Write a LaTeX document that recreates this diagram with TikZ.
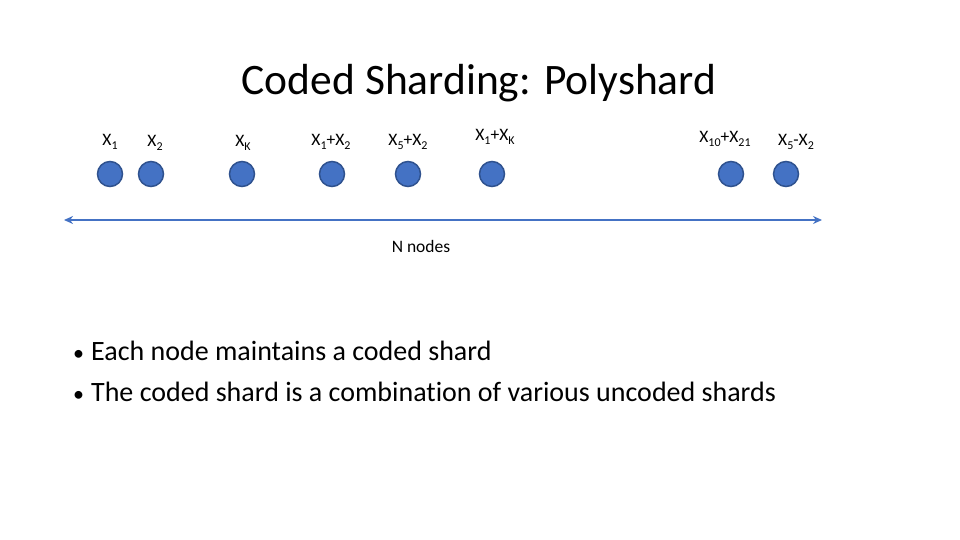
\documentclass[tikz,border=0pt]{standalone}
\usepackage{fontspec}
\setmainfont[RawFeature=-liga]{Carlito}
\usetikzlibrary{arrows.meta}
\definecolor{nodefill}{HTML}{4472C4}
\definecolor{nodeedge}{HTML}{2F528F}
\newcommand{\sub}[1]{\raisebox{-0.25em}{\fontsize{12}{14}\selectfont #1}}
\newcommand{\bul}{{\fontsize{22}{26}\selectfont •}\hspace{0.25em}}
\begin{document}
\begin{tikzpicture}[x=1pt,y=-1pt,
  shard/.style={circle,fill=nodefill,draw=nodeedge,line width=1.5pt,minimum size=25pt,inner sep=0pt},
  lbl/.style={font=\fontsize{17.5}{20}\selectfont,inner sep=0pt},
  conn/.style={draw=nodefill,line width=1.5pt,{Stealth[length=9pt,width=8pt]}-{Stealth[length=9pt,width=8pt]}}]
\useasboundingbox (0,0) rectangle (960,540);
\node[font=\fontsize{43.5}{52}\selectfont] (title) at (479,83) {Coded Sharding: Polyshard};
\foreach \n/\x in {a/110,b/151,c/242,d/332,e/408,f/492,g/731,h/786}{
  \node[shard] (\n) at (\x,174) {};
}
\node[lbl] (la) at (110,142) {X\sub{1}};
\node[lbl] (lb) at (155,143) {X\sub{2}};
\node[lbl] (lc) at (243,143) {X\sub{K}};
\node[lbl] (ld) at (331,142) {X\sub{1}+X\sub{2}};
\node[lbl] (le) at (408,142) {X\sub{5}+X\sub{2}};
\node[lbl] (lf) at (495,137) {X\sub{1}+X\sub{K}};
\node[lbl] (lg) at (725,139) {X\sub{10}+X\sub{21}};
\node[lbl] (lh) at (796,142) {X\sub{5}-X\sub{2}};
\coordinate (left) at (64,220);
\coordinate (right) at (822,220);
\draw[conn] (left) -- (right);
\node[font=\fontsize{17.5}{21}\selectfont] (nn) at (421,246) {N nodes};
\node[anchor=west,font=\fontsize{28}{34}\selectfont,inner sep=0pt] (b1) at (73,351) {\bul Each node maintains a coded shard};
\node[anchor=west,font=\fontsize{28}{34}\selectfont,inner sep=0pt] (b2) at (73,392) {\bul The coded shard is a combination of various uncoded shards};
\end{tikzpicture}
\end{document}
